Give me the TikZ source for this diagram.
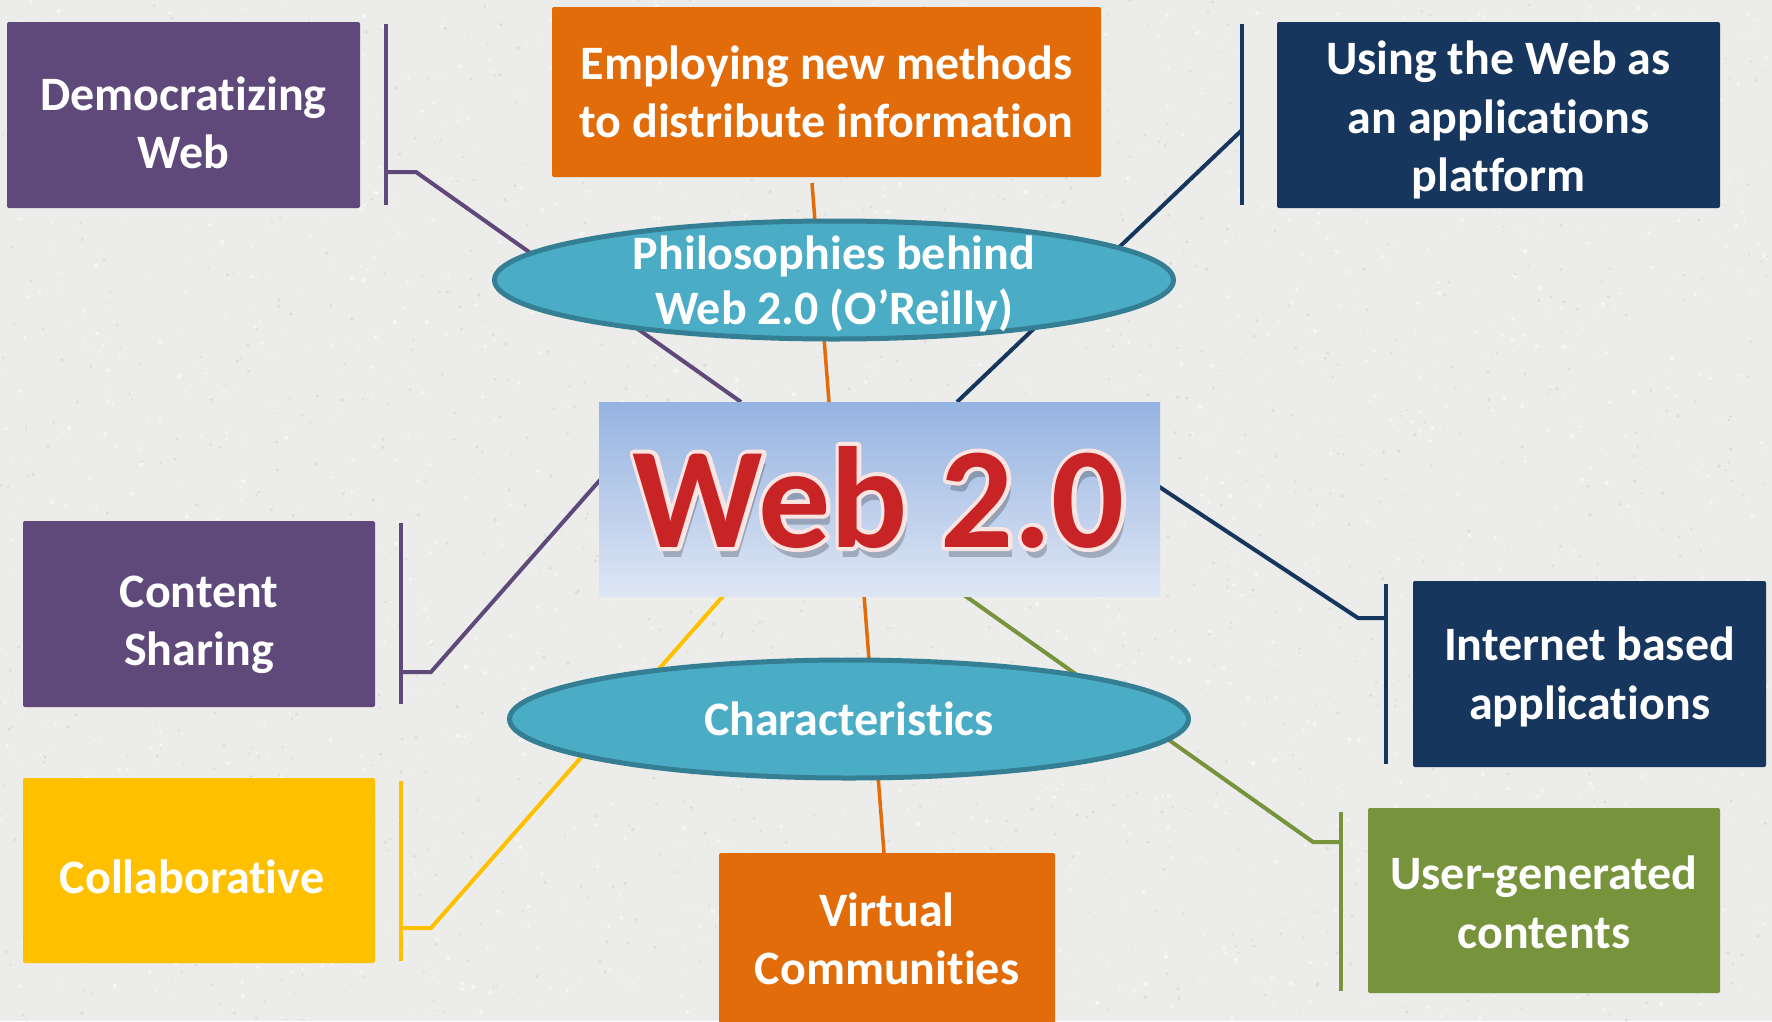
\documentclass[tikz,border=0pt]{standalone}
\usepackage{fontspec}
\setmainfont{Carlito}[Ligatures={NoCommon,NoContextual}]
\usetikzlibrary{calc,shapes.geometric}
\definecolor{bg}{RGB}{236,236,234}
\definecolor{cpurple}{RGB}{95,73,122}
\definecolor{corange}{RGB}{227,108,10}
\definecolor{cnavy}{RGB}{23,54,93}
\definecolor{cyellow}{RGB}{255,192,0}
\definecolor{cgreen}{RGB}{119,147,60}
\definecolor{cteal}{RGB}{75,172,198}
\definecolor{ctealdark}{RGB}{53,127,148}
\definecolor{webtop}{RGB}{149,179,225}
\definecolor{webbot}{RGB}{222,230,244}
\definecolor{webred}{RGB}{200,36,38}
\definecolor{webrim}{RGB}{250,230,228}
\newcommand{\rimtext}[1]{\special{pdf:literal direct 1 j 2 Tr 8 w 0.98 0.9 0.89 RG}#1\special{pdf:literal direct 0 Tr}}
\begin{document}
\begin{tikzpicture}[x=1pt,y=-1pt,
  box/.style={rounded corners=2pt, inner sep=0pt},
  boxtext/.style={inner sep=0pt, text=white, align=center,
    font=\bfseries\fontsize{48}{58.6}\selectfont},
  oval/.style={ellipse, draw=ctealdark, line width=5pt, fill=cteal, inner sep=0pt,
    minimum width=679pt, minimum height=118pt},
  ovaltext/.style={text=white, align=center, font=\bfseries\fontsize{48}{55}\selectfont},
  bar/.style={line width=4.5pt},
  link/.style={line width=4pt},
  bigweb/.style={inner sep=0pt, anchor=base, font=\bfseries\fontsize{144}{170}\selectfont}]
\useasboundingbox (0,0) rectangle (1772,1021);
\fill[bg] (0,0) rectangle (1772,1021);
% paper texture
\pgfmathsetseed{12}
\foreach \i in {1,...,1800}{
  \pgfmathsetmacro\px{rnd*1772}\pgfmathsetmacro\py{rnd*1021}\pgfmathsetmacro\s{0.6+rnd*1.6}
  \fill[white,opacity=0.5] (\px,\py) circle (\s);
}
\foreach \i in {1,...,1800}{
  \pgfmathsetmacro\px{rnd*1772}\pgfmathsetmacro\py{rnd*1021}\pgfmathsetmacro\s{0.5+rnd*1.4}
  \fill[black!45,opacity=0.15] (\px,\py) circle (\s);
}

% coordinates of connectors
\coordinate (dA) at (386,24);  \coordinate (dB) at (386,205);
\coordinate (dT) at (386,172); \coordinate (dK) at (416,172); \coordinate (dW) at (741,402);
\coordinate (eA) at (812,183); \coordinate (eW) at (829,402);
\coordinate (uA) at (1242,24); \coordinate (uB) at (1242,205);
\coordinate (uT) at (1242,130); \coordinate (uW) at (957,402);
\coordinate (cA) at (401,523); \coordinate (cB) at (401,704);
\coordinate (cT) at (401,672); \coordinate (cK) at (431,672); \coordinate (cW) at (600,480);
\coordinate (kA) at (401,781); \coordinate (kB) at (401,961);
\coordinate (kT) at (401,928); \coordinate (kK) at (431,928); \coordinate (kW) at (724,595);
\coordinate (vW) at (864,595); \coordinate (vB) at (884,853);
\coordinate (iW) at (1158,486); \coordinate (iK) at (1358,618); \coordinate (iT) at (1386,618);
\coordinate (iA) at (1386,584); \coordinate (iB) at (1386,764);
\coordinate (gW) at (964,595); \coordinate (gK) at (1313,842); \coordinate (gT) at (1341,842);
\coordinate (gA) at (1341,812); \coordinate (gB) at (1341,991);

% connectors
\draw[bar,cpurple] (dA) -- (dB);
\draw[link,cpurple] (dT) -- (dK) -- (dW);
\draw[link,corange,line width=3.5pt] (eA) -- (eW);
\draw[bar,cnavy] (uA) -- (uB);
\draw[link,cnavy] (uT) -- (uW);
\draw[bar,cpurple] (cA) -- (cB);
\draw[link,cpurple] (cT) -- (cK) -- (cW);
\draw[bar,cyellow] (kA) -- (kB);
\draw[link,cyellow] (kT) -- (kK) -- (kW);
\draw[link,corange,line width=3.5pt] (vW) -- (vB);
\draw[link,cnavy] (iW) -- (iK) -- (iT);
\draw[bar,cnavy] (iA) -- (iB);
\draw[link,cgreen] (gW) -- (gK) -- (gT);
\draw[bar,cgreen] (gA) -- (gB);

% ellipses
\node[oval] (phil) at (834,280) {};
\node[ovaltext] (philtext) at (834,284) {Philosophies behind\\Web 2.0 (O’Reilly)};
\node[oval] (char) at (849,719) {};
\node[ovaltext] (chartext) at (849,719) {Characteristics};

% central box
\node[inner sep=0pt, minimum width=561pt, minimum height=194pt,
  top color=webtop, bottom color=webbot] (web) at (879.5,499) {};
\coordinate (wb) at (879,547);
\node[bigweb, text=black, opacity=0.22] (webshadow) at ($(wb)+(4,10)$) {Web 2.0};
\node[bigweb, text=webrim] (webrimtext) at (wb) {\rimtext{Web 2.0}};
\node[bigweb, text=webred] (webtext) at (wb) {Web 2.0};

% boxes
\node[box, fill=cpurple, minimum width=353pt, minimum height=186pt] (demo) at (183.5,115) {};
\node[boxtext] (demotext) at ($(demo.center)+(0,8)$) {Democratizing\\Web};
\node[box, fill=corange, minimum width=549pt, minimum height=170pt] (emp) at (826.5,92) {};
\node[boxtext] (emptext) at (emp.center) {Employing new methods\\to distribute information};
\node[box, fill=cnavy, minimum width=443pt, minimum height=186pt] (using) at (1498.5,115) {};
\node[boxtext] (usingtext) at ($(using.center)+(0,5)$) {Using the Web as\\an applications\\platform};
\node[box, fill=cpurple, minimum width=352pt, minimum height=186pt] (content) at (199,614) {};
\node[boxtext] (contenttext) at ($(content.center)+(0,11)$) {Content\\Sharing};
\node[box, fill=cyellow, minimum width=352pt, minimum height=185pt] (collab) at (199,870.5) {};
\node[boxtext] (collabtext) at ($(collab.center)+(-7,6)$) {Collaborative};
\node[box, fill=corange, minimum width=336pt, minimum height=176pt] (virt) at (887,941) {};
\node[boxtext] (virttext) at ($(virt.center)+(0,-2)$) {Virtual\\Communities};
\node[box, fill=cnavy, minimum width=353pt, minimum height=186pt] (inet) at (1589.5,674) {};
\node[boxtext] (inettext) at ($(inet.center)+(0,3)$) {Internet based\\applications};
\node[box, fill=cgreen, minimum width=352pt, minimum height=185pt] (user) at (1544,900.5) {};
\node[boxtext] (usertext) at ($(user.center)+(0,2)$) {User-generated\\contents};
\end{tikzpicture}
\end{document}
